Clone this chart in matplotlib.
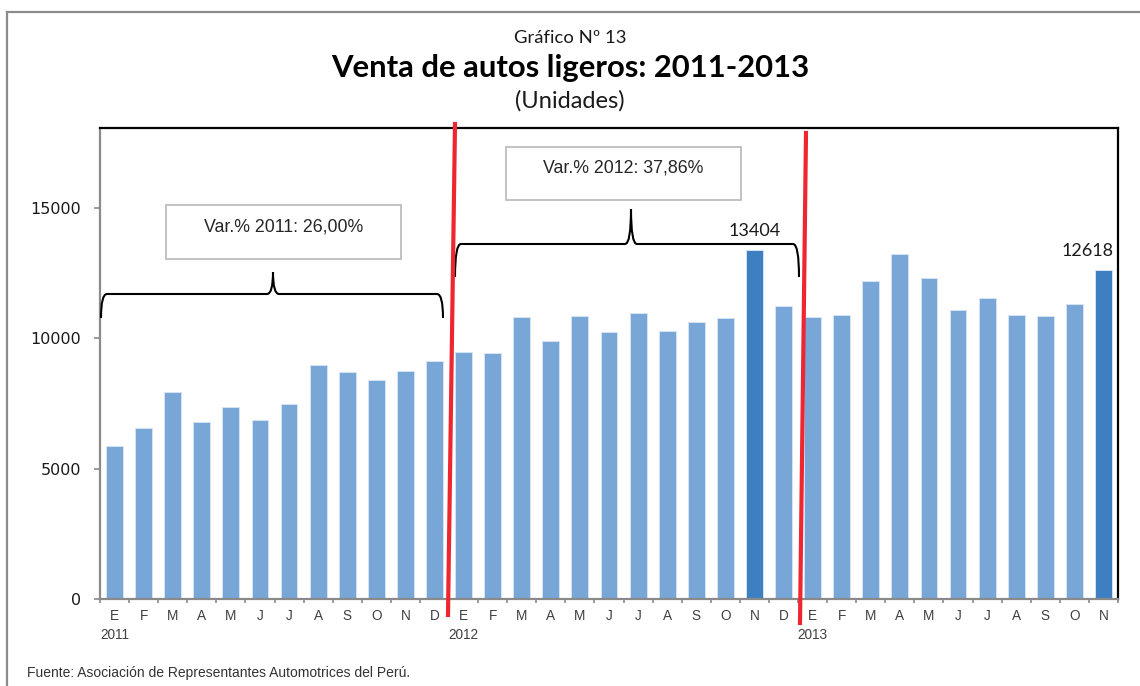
import matplotlib
matplotlib.use("Agg")
import matplotlib.pyplot as plt
from matplotlib.path import Path
from matplotlib.patches import PathPatch, Rectangle
from matplotlib.lines import Line2D
import numpy as np

# ---------------- data ----------------
months = ["E", "F", "M", "A", "M", "J", "J", "A", "S", "O", "N", "D"]
years = ["2011", "2012", "2013"]
values_2011 = [5880, 6570, 7940, 6800, 7370, 6880, 7500, 8990, 8700, 8390, 8770, 9130]
values_2012 = [9490, 9430, 10840, 9900, 10870, 10260, 10970, 10280, 10650, 10790, 13404, 11250]
values_2013 = [10830, 10920, 12220, 13260, 12340, 11110, 11560, 10920, 10870, 11330, 12618]
highlight_labels = {"2012-N": 13404, "2013-N": 12618}
var_texts = ["Var.% 2011: 26,00%", "Var.% 2012: 37,86%"]
yticks = [0, 5000, 10000, 15000]

values = values_2011 + values_2012 + values_2013
month_labels = months + months + months[:len(values_2013)]
n = len(values)
highlight_idx = [12 + 10, 24 + 10]

W, H = 1140, 686
fig = plt.figure(figsize=(W / 100, H / 100), dpi=100)
fig.patch.set_facecolor("white")

def fx(px):
    return px / W

def fy(py):
    return 1 - py / H

ax = fig.add_axes([fx(100), fy(599), fx(1118) - fx(100), fy(128) - fy(599)])

light = "#78A6D7"
dark = "#3E7FC1"
colors = [dark if i in highlight_idx else light for i in range(n)]
x = np.arange(n)
ax.bar(x, values, width=0.58, color=colors, edgecolor="#D6E3F3", linewidth=0.7, zorder=2)

ax.set_xlim(-0.5, n - 0.5)
ax.set_ylim(0, 18080)

# spines
for s in ["top", "right"]:
    ax.spines[s].set_color("black")
    ax.spines[s].set_linewidth(1.6)
for s in ["left", "bottom"]:
    ax.spines[s].set_color("#8A8A8A")
    ax.spines[s].set_linewidth(1.6)

narrow = ["Liberation Sans Narrow", "Liberation Sans"]

# y axis
ax.set_yticks(yticks)
ax.set_yticklabels([str(v) for v in yticks], fontsize=11.5, family="DejaVu Sans", color="#1a1a1a")
ax.tick_params(axis="y", direction="out", length=4.5, width=1.2, color="#8A8A8A", pad=9)

# x axis: minor ticks at boundaries, labels at centers
ax.set_xticks(np.arange(-0.5, n, 1.0), minor=True)
ax.set_xticks(x)
ax.set_xticklabels(month_labels, fontsize=9.8, family=narrow, color="#404040")
ax.tick_params(axis="x", which="major", length=0, pad=7)
ax.tick_params(axis="x", which="minor", direction="out", length=3, width=1.2, color="#8A8A8A")

# year labels under first month of each year
for i, yr in enumerate(years):
    ax.text(i * 12, -0.076, yr, transform=ax.get_xaxis_transform(), ha="center", va="center",
            fontsize=9.8, family=narrow, color="#404040")

# value labels on highlighted bars
ax.text(highlight_idx[0], values[highlight_idx[0]] + 430, str(highlight_labels["2012-N"]),
        ha="center", va="bottom", fontsize=13, family="Lato", color="#1a1a1a")
ax.text(highlight_idx[1] + 0.33, values[highlight_idx[1]] + 430, str(highlight_labels["2013-N"]),
        ha="right", va="bottom", fontsize=13, family="Lato", color="#1a1a1a")

# titles
fig.text(0.5, fy(38), "Gráfico Nº 13", ha="center", va="center", fontsize=13.3, family="Lato", color="#1a1a1a")
fig.text(0.5, fy(68), "Venta de autos ligeros: 2011-2013", ha="center", va="center", fontsize=22.3,
         family="Lato", weight="bold", color="black")
fig.text(0.5, fy(101), "(Unidades)", ha="center", va="center", fontsize=17, family="Lato", color="#1a1a1a")

# footer
fig.text(fx(27), fy(673), "Fuente: Asociación de Representantes Automotrices del Perú.", ha="left", va="center",
         fontsize=10, family=narrow, color="#333333")

# outer frame
fig.add_artist(Line2D([fx(7), fx(7)], [fy(12), fy(690)], color="#8C8C8C", lw=1.6))
fig.add_artist(Line2D([fx(7), fx(1145)], [fy(12), fy(12)], color="#8C8C8C", lw=1.6))

# annotation boxes
def box(x0, y0, x1, y1, text, ty):
    fig.add_artist(Rectangle((fx(x0), fy(y1)), fx(x1) - fx(x0), fy(y0) - fy(y1),
                             facecolor="white", edgecolor="#BDBDBD", lw=1.3, zorder=5))
    fig.text(fx((x0 + x1) / 2), fy(ty), text, ha="center", va="center", fontsize=12.8,
             family=narrow, color="#262626", zorder=6)

box(166, 205, 401, 259, var_texts[0], 227)
box(506, 147, 741, 200, var_texts[1], 168)

# braces
def brace(x0, x1, xm, yb, yh, yt):
    r = 6
    verts = [(x0, yb), (x0, yh), (x0 + r, yh),
             (xm - r, yh), (xm, yh), (xm, yt),
             (xm, yh), (xm + r, yh),
             (x1 - r, yh), (x1, yh), (x1, yb)]
    codes = [Path.MOVETO, Path.CURVE3, Path.CURVE3,
             Path.LINETO, Path.CURVE3, Path.CURVE3,
             Path.CURVE3, Path.CURVE3,
             Path.LINETO, Path.CURVE3, Path.CURVE3]
    verts = [(fx(a), fy(b)) for a, b in verts]
    fig.add_artist(PathPatch(Path(verts, codes), facecolor="none", edgecolor="black", lw=1.5, zorder=5))

brace(101, 443, 273, 318, 294, 272)
brace(455, 799, 631, 277, 244, 209)

# red separator lines
fig.add_artist(Line2D([fx(455), fx(448)], [fy(124), fy(615)], color="#EE2630", lw=3, zorder=7))
fig.add_artist(Line2D([fx(806), fx(800)], [fy(133), fy(623)], color="#EE2630", lw=3, zorder=7))

fig.savefig("out.png", dpi=100, facecolor="white")
